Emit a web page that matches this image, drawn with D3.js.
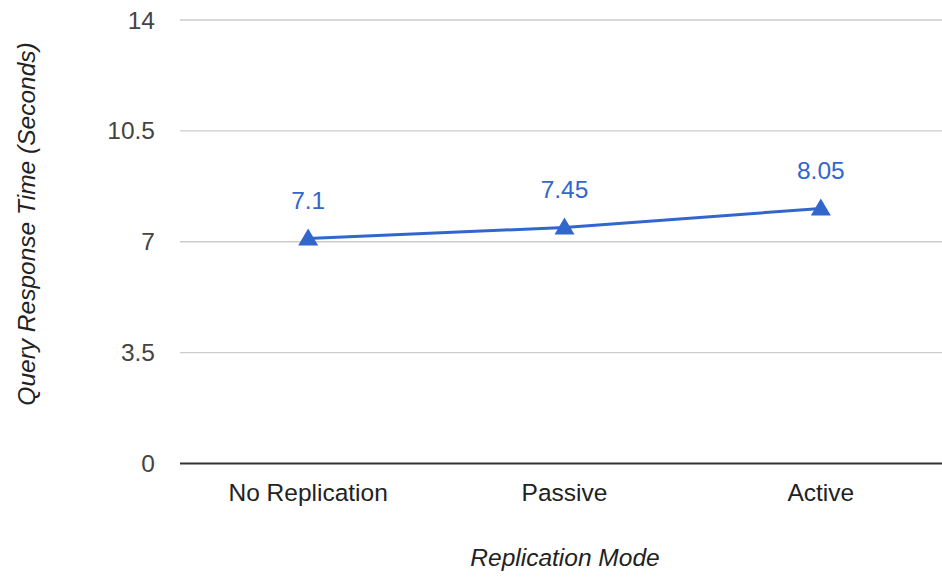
<!DOCTYPE html>
<html>
<head>
<meta charset="utf-8">
<script src="https://cdn.jsdelivr.net/npm/d3@7"></script>
<style>
  body { margin: 0; background: #fff; }
  svg { display: block; font-family: "Liberation Sans", Arial, sans-serif; }
</style>
</head>
<body>
<svg id="chart" width="942" height="578"></svg>
<script>
const categories = ["No Replication", "Passive", "Active"];
const responseTimes = [7.1, 7.45, 8.05];
const yTicks = [0, 3.5, 7, 10.5, 14];
const xTitle = "Replication Mode";
const yTitle = "Query Response Time (Seconds)";

const svg = d3.select("#chart");
const plot = { left: 180, right: 949, top: 20, bottom: 463.5 };
const fontSize = 24.5;

const x = d3.scalePoint().domain(categories).range([plot.left, plot.right]).padding(0.5);
const y = d3.scaleLinear().domain([0, 14]).range([plot.bottom, plot.top]);

// horizontal gridlines
svg.append("g").selectAll("line").data(yTicks.filter(d => d !== 0)).join("line")
  .attr("x1", plot.left).attr("x2", 942)
  .attr("y1", d => y(d)).attr("y2", d => y(d))
  .attr("stroke", "#cccccc").attr("stroke-width", 1.3);

// baseline
svg.append("line")
  .attr("x1", plot.left).attr("x2", 942)
  .attr("y1", y(0)).attr("y2", y(0))
  .attr("stroke", "#333333").attr("stroke-width", 2);

// y tick labels
svg.append("g").selectAll("text").data(yTicks).join("text")
  .attr("x", 155).attr("y", d => y(d))
  .attr("dy", "0.35em").attr("text-anchor", "end")
  .attr("font-size", fontSize).attr("fill", "#444444")
  .text(d => d);

// x tick labels
svg.append("g").selectAll("text").data(categories).join("text")
  .attr("x", d => x(d)).attr("y", 492)
  .attr("dy", "0.35em").attr("text-anchor", "middle")
  .attr("font-size", fontSize).attr("fill", "#222222")
  .text(d => d);

// axis titles
svg.append("text")
  .attr("x", 565).attr("y", 557).attr("dy", "0.35em")
  .attr("text-anchor", "middle").attr("font-size", fontSize)
  .attr("font-style", "italic").attr("fill", "#222222")
  .text(xTitle);

svg.append("text")
  .attr("transform", "translate(26,224) rotate(-90)")
  .attr("dy", "0.35em")
  .attr("text-anchor", "middle").attr("font-size", fontSize)
  .attr("font-style", "italic").attr("fill", "#222222")
  .text(yTitle);

const series = categories.map((c, i) => ({ cat: c, value: responseTimes[i] }));

// series line
svg.append("path").datum(series)
  .attr("fill", "none").attr("stroke", "#3366cc").attr("stroke-width", 3)
  .attr("d", d3.line().x(d => x(d.cat)).y(d => y(d.value)));

// triangle markers
svg.append("g").selectAll("path").data(series).join("path")
  .attr("transform", d => `translate(${x(d.cat)},${y(d.value)})`)
  .attr("d", "M0,-10 L10,7 L-10,7 Z")
  .attr("fill", "#3366cc");

// value labels
svg.append("g").selectAll("text").data(series).join("text")
  .attr("x", d => x(d.cat)).attr("y", d => y(d.value) - 38)
  .attr("dy", "0.35em").attr("text-anchor", "middle")
  .attr("font-size", fontSize).attr("fill", "#3366cc")
  .text(d => d.value);
</script>
</body>
</html>
